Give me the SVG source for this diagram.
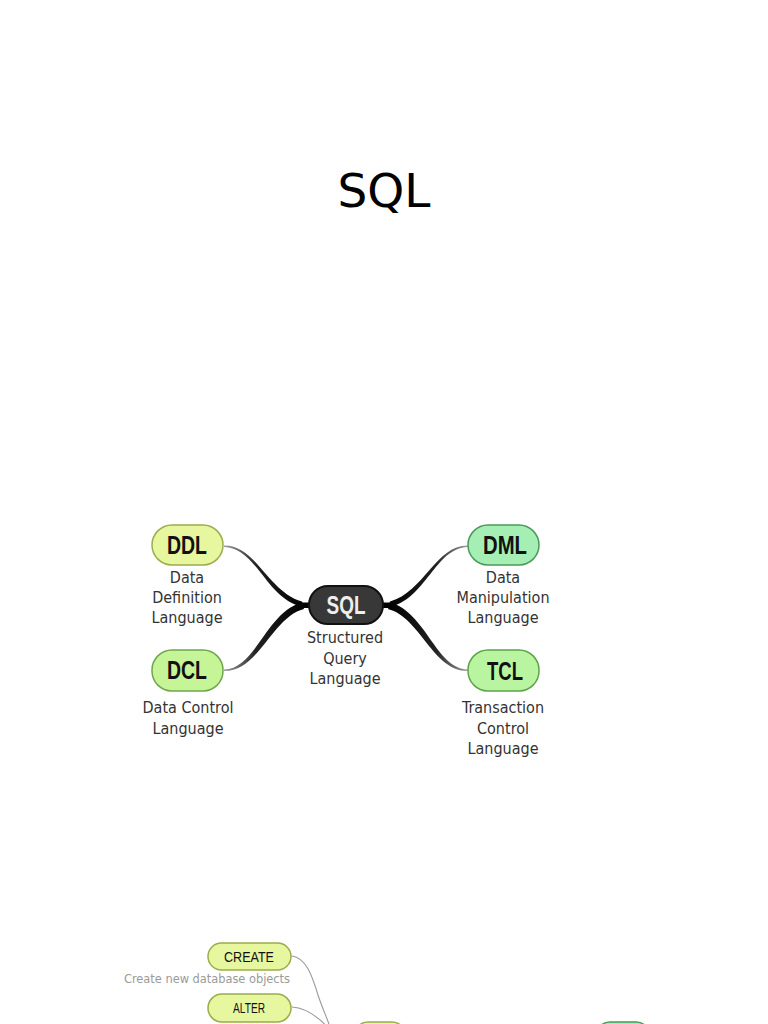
<svg xmlns="http://www.w3.org/2000/svg" width="768" height="1024" viewBox="0 0 768 1024">
<style>
.title{font-family:"DejaVu Sans",sans-serif;font-size:47px;fill:#000;text-anchor:middle}
.pt{font-family:"Liberation Sans",Arial,sans-serif;font-weight:bold;font-size:25px;fill:#111;text-anchor:middle}
.lbl{font-family:"DejaVu Sans Condensed","DejaVu Sans",sans-serif;font-size:16px;fill:#333;text-anchor:middle}
.st{font-family:"Liberation Sans",Arial,sans-serif;font-size:14px;fill:#111;text-anchor:middle}
.desc{font-family:"DejaVu Sans Condensed","DejaVu Sans",sans-serif;font-size:12px;fill:#9a9a9a;text-anchor:end}
.yel{fill:#e6f7a0;stroke:#9aac4c;stroke-width:1.5}
.lg{fill:#c6f598;stroke:#6fa64c;stroke-width:1.5}
.mint{fill:#a6efb4;stroke:#4a9a5a;stroke-width:1.5}
.grn{fill:#b9f5a0;stroke:#5fa24a;stroke-width:1.5}
.thin{fill:none;stroke:#9a9a9a;stroke-width:1.1}
</style>
<defs>
<linearGradient id="taper" x1="0" y1="0" x2="1" y2="0">
<stop offset="0" stop-color="#a0a0a0"/>
<stop offset="0.4" stop-color="#222"/>
<stop offset="1" stop-color="#000"/>
</linearGradient>
</defs>
<text class="title" x="384" y="207">SQL</text>
<g id="connectors">
<g id="left-connectors" fill="url(#taper)">
<path d="M224,545.5 C256,545 268,592 302,601.5 L304,607.5 C266,600 257,547.5 224,547 Z"/>
<path d="M224,669.5 C256,669 266,612 302,602.5 L304,609 C272,617 259,671.5 224,671 Z"/>
<rect x="300" y="602.5" width="12" height="5.5" fill="#000"/>
</g>
<g id="right-connectors" fill="url(#taper)" transform="translate(692,0) scale(-1,1)">
<path d="M224,545.5 C256,545 268,592 302,601.5 L304,607.5 C266,600 257,547.5 224,547 Z"/>
<path d="M224,669.5 C256,669 266,612 302,602.5 L304,609 C272,617 259,671.5 224,671 Z"/>
<rect x="300" y="602.5" width="12" height="5.5" fill="#000"/>
</g>
<path class="thin" d="M292,956 C306,958 312,975 318,995 C323,1010 328,1020 331,1030"/>
<path class="thin" d="M292,1007 C305,1008 318,1016 330,1030"/>
</g>
<g id="sql">
<rect x="309" y="586" width="74" height="38" rx="19" fill="#383838" stroke="#111" stroke-width="2"/>
<text class="pt" x="346" y="614" style="fill:#eeeeee" textLength="39" lengthAdjust="spacingAndGlyphs">SQL</text>
<text class="lbl" x="345" y="643">Structured</text>
<text class="lbl" x="345" y="664">Query</text>
<text class="lbl" x="345" y="684">Language</text>
</g>
<g id="ddl">
<rect class="yel" x="152" y="525" width="71" height="40" rx="20"/>
<text class="pt" x="187" y="554" textLength="40" lengthAdjust="spacingAndGlyphs">DDL</text>
<text class="lbl" x="187" y="583">Data</text>
<text class="lbl" x="187" y="603">Definition</text>
<text class="lbl" x="187" y="623">Language</text>
</g>
<g id="dcl">
<rect class="lg" x="152" y="650" width="71" height="41" rx="20"/>
<text class="pt" x="187" y="679" textLength="40" lengthAdjust="spacingAndGlyphs">DCL</text>
<text class="lbl" x="188" y="713">Data Control</text>
<text class="lbl" x="188" y="734">Language</text>
</g>
<g id="dml">
<rect class="mint" x="468" y="525" width="71" height="40" rx="20"/>
<text class="pt" x="505" y="554" textLength="44" lengthAdjust="spacingAndGlyphs">DML</text>
<text class="lbl" x="503" y="583">Data</text>
<text class="lbl" x="503" y="603">Manipulation</text>
<text class="lbl" x="503" y="623">Language</text>
</g>
<g id="tcl">
<rect class="grn" x="468" y="650" width="71" height="41" rx="20"/>
<text class="pt" x="505" y="680" textLength="36" lengthAdjust="spacingAndGlyphs">TCL</text>
<text class="lbl" x="503" y="713">Transaction</text>
<text class="lbl" x="503" y="734">Control</text>
<text class="lbl" x="503" y="754">Language</text>
</g>
<g id="create">
<rect class="yel" x="208" y="943" width="83" height="27" rx="13.5"/>
<text class="st" x="249" y="962" textLength="50" lengthAdjust="spacingAndGlyphs">CREATE</text>
<text class="desc" x="290" y="983" textLength="166" lengthAdjust="spacingAndGlyphs">Create new database objects</text>
</g>
<g id="alter">
<rect class="yel" x="208" y="994" width="83" height="28" rx="14"/>
<text class="st" x="249" y="1013" textLength="32" lengthAdjust="spacingAndGlyphs">ALTER</text>
</g>
<g id="ddl-bottom">
<rect class="yel" x="354" y="1022" width="52" height="28" rx="14"/>
</g>
<g id="dml-bottom">
<rect class="mint" x="596" y="1022" width="54" height="28" rx="14"/>
</g>
</svg>
